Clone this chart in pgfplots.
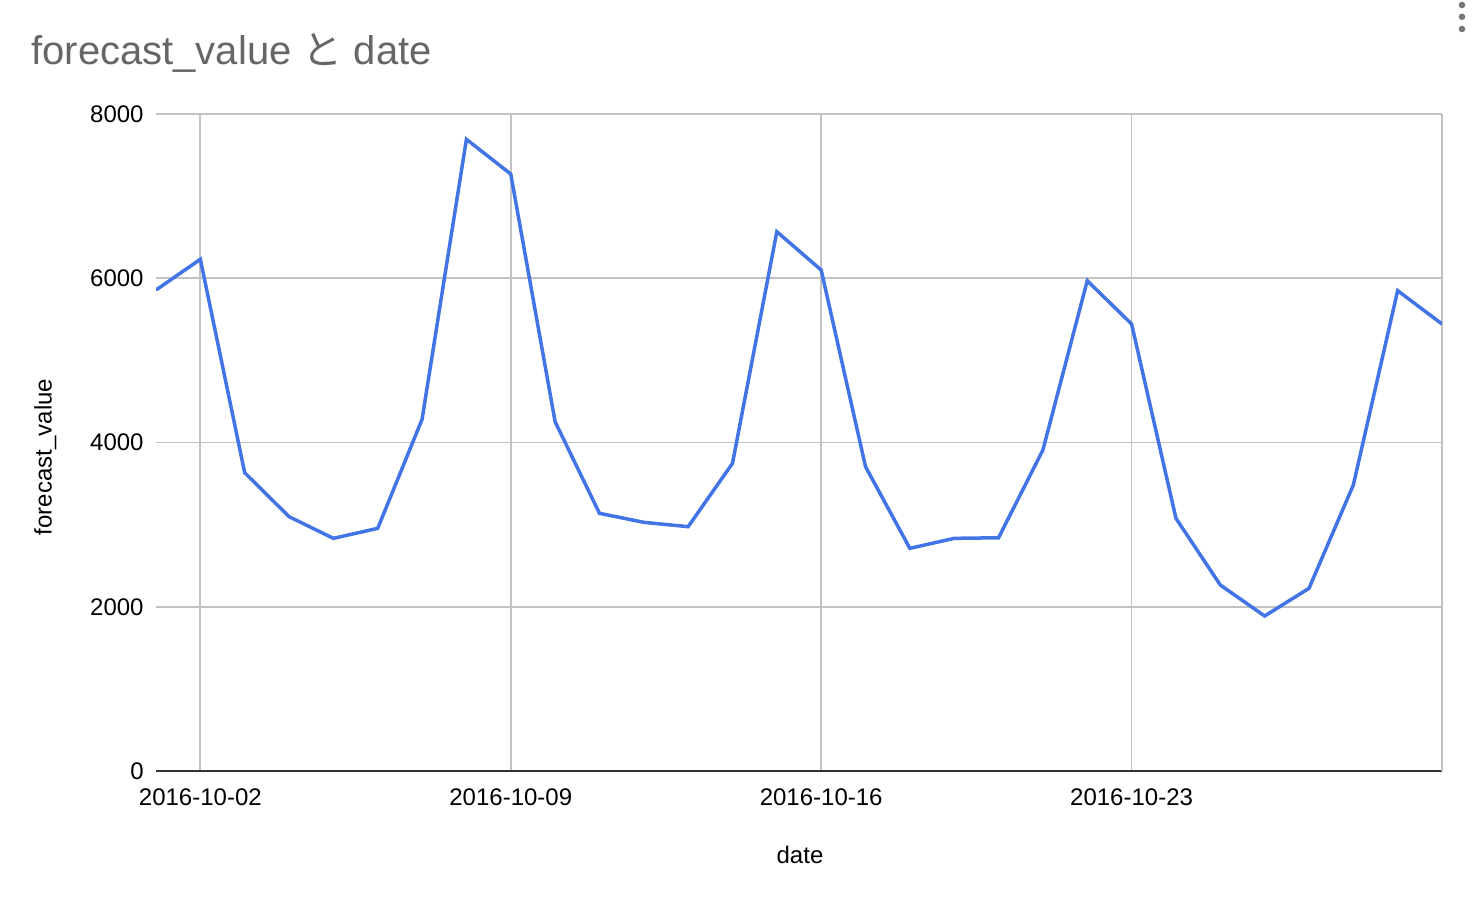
\documentclass[border=0pt]{standalone}
\usepackage{fontspec}
\setmainfont{Liberation Sans}
\newfontfamily\cjk{Noto Sans CJK JP}
\usepackage{pgfplots}
\pgfplotsset{compat=1.18}
\definecolor{series}{HTML}{4374E6}
\definecolor{gridgray}{HTML}{C2C2C2}
\definecolor{titlegray}{HTML}{666666}
\definecolor{menugray}{HTML}{777777}
\definecolor{axisdark}{HTML}{333333}

\begin{document}
\begin{tikzpicture}
\path[use as bounding box] (0,0) rectangle (740bp,452bp);
\begin{axis}[
    at={(78bp,66.5bp)}, anchor=south west,
    scale only axis, width=643bp, height=328.5bp,
    xmin=1, xmax=30, ymin=0, ymax=8000,
    xtick={2,9,16,23},
    xticklabels={2016-10-02,2016-10-09,2016-10-16,2016-10-23},
    ytick={0,2000,4000,6000,8000},
    extra x ticks={30}, extra x tick labels={},
    extra x tick style={grid=major},
    grid=major,
    major grid style={draw=gridgray, line width=0.85bp},
    major tick length=0pt,
    axis x line*=bottom, axis y line*=left,
    x axis line style={draw=axisdark, line width=1bp, -},
    y axis line style={draw=none},
    ticklabel style={font=\fontsize{12bp}{14bp}\selectfont},
    yticklabel style={anchor=east, inner sep=0pt, xshift=-6bp,
        /pgf/number format/assume math mode=true,
        /pgf/number format/1000 sep={}},
    xticklabel style={anchor=north, inner sep=0pt, yshift=-8.5bp},
]
\addplot[series, line width=1.75bp, line join=miter, mark=none] coordinates {
    (1,5857) (2,6231) (3,3632) (4,3097) (5,2833) (6,2955) (7,4282)
    (8,7692) (9,7269) (10,4253) (11,3138) (12,3028) (13,2975) (14,3746)
    (15,6567) (16,6100) (17,3706) (18,2711) (19,2833) (20,2840) (21,3909)
    (22,5970) (23,5443) (24,3077) (25,2265) (26,1887) (27,2224) (28,3482)
    (29,5849) (30,5443)
};
\end{axis}
\node[anchor=base west, inner sep=0pt, text=titlegray,
      font=\fontsize{20bp}{24bp}\selectfont] at (15.5bp,419.5bp)
      {forecast\_value {\cjk と} date};
\node[rotate=90, anchor=base, inner sep=0pt,
      font=\fontsize{12bp}{14bp}\selectfont] at (25.75bp,223.5bp) {forecast\_value};
\node[anchor=base, inner sep=0pt,
      font=\fontsize{12bp}{14bp}\selectfont] at (400bp,20.5bp) {date};
\fill[menugray] (731bp,449.5bp) circle (1.65bp);
\fill[menugray] (731bp,443.6bp) circle (1.65bp);
\fill[menugray] (731bp,437.5bp) circle (1.65bp);
\end{tikzpicture}
\end{document}
